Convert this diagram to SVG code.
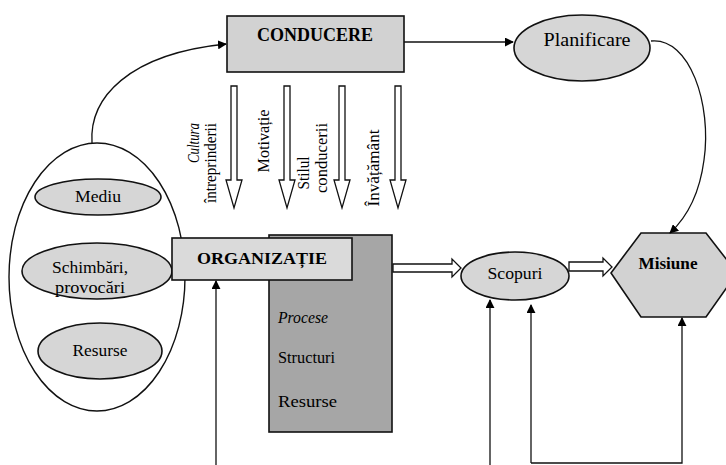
<svg xmlns="http://www.w3.org/2000/svg" width="726" height="465" viewBox="0 0 726 465" font-family="'Liberation Serif', 'Times New Roman', serif">
  <defs>
    <marker id="arrow" viewBox="0 0 10 10" refX="9" refY="5" markerWidth="9" markerHeight="9" markerUnits="userSpaceOnUse" orient="auto">
      <path d="M0,0 L10,5 L0,10 z" fill="#000"/>
    </marker>
    <style>
      text { font-family: "Liberation Serif", "Times New Roman", serif; fill: #000; }
      .box { fill: #d2d2d2; stroke: #111; stroke-width: 1.6; }
      .title { fill: #dadada; stroke: #111; stroke-width: 1.6; }
      .oval { fill: #d6d6d6; stroke: #111; stroke-width: 1.6; }
      .dark { fill: #a6a6a6; stroke: #111; stroke-width: 1.6; }
      .line { fill: none; stroke: #111; stroke-width: 1.3; }
      .hollow { fill: #fff; stroke: #111; stroke-width: 1.3; stroke-linejoin: miter; }
      .b { font-weight: bold; }
    </style>
  </defs>

  <rect width="726" height="465" fill="#fff"/>

  <!-- environment: outer envelope with its three factors -->
  <g id="mediu-extern">
    <ellipse cx="97" cy="277" rx="88" ry="134" fill="none" stroke="#111" stroke-width="1.4"/>
  </g>
  <g id="mediu">
    <ellipse class="oval" cx="98" cy="197" rx="63" ry="18"/>
    <text x="98" y="202" font-size="17" text-anchor="middle" textLength="46" lengthAdjust="spacingAndGlyphs">Mediu</text>
  </g>
  <g id="schimbari">
    <ellipse class="oval" cx="97" cy="271" rx="75" ry="28"/>
    <text x="90" y="273" font-size="17" text-anchor="middle" textLength="76" lengthAdjust="spacingAndGlyphs">Schimbări,</text>
    <text x="90" y="293" font-size="17" text-anchor="middle" textLength="70" lengthAdjust="spacingAndGlyphs">provocări</text>
  </g>
  <g id="resurse-mediu">
    <ellipse class="oval" cx="100" cy="351" rx="62" ry="28"/>
    <text x="100" y="356" font-size="17" text-anchor="middle" textLength="55" lengthAdjust="spacingAndGlyphs">Resurse</text>
  </g>

  <!-- leadership -->
  <g id="conducere">
    <rect class="box" x="227" y="16" width="177" height="56"/>
    <text class="b" x="315" y="41" font-size="18" text-anchor="middle" textLength="116" lengthAdjust="spacingAndGlyphs">CONDUCERE</text>
  </g>

  <g id="planificare">
    <ellipse class="oval" cx="582" cy="48" rx="68" ry="33"/>
    <text x="587" y="46" font-size="18" text-anchor="middle" textLength="87" lengthAdjust="spacingAndGlyphs">Planificare</text>
  </g>

  <!-- organisation block: content panel behind the title bar -->
  <g id="continut-organizatie">
    <rect class="dark" x="269" y="235" width="123" height="197"/>
    <text x="278" y="323" font-size="16" font-style="italic" textLength="50" lengthAdjust="spacingAndGlyphs">Procese</text>
    <text x="278" y="363" font-size="16" textLength="57" lengthAdjust="spacingAndGlyphs">Structuri</text>
    <text x="278" y="407" font-size="16" textLength="59" lengthAdjust="spacingAndGlyphs">Resurse</text>
  </g>
  <g id="organizatie">
    <rect class="title" x="172" y="238" width="180" height="42"/>
    <text class="b" x="262" y="264" font-size="17" text-anchor="middle" textLength="130" lengthAdjust="spacingAndGlyphs">ORGANIZAȚIE</text>
  </g>

  <g id="scopuri">
    <ellipse class="oval" cx="515" cy="276" rx="54" ry="24"/>
    <text x="515" y="279" font-size="17" text-anchor="middle" textLength="55" lengthAdjust="spacingAndGlyphs">Scopuri</text>
  </g>

  <g id="misiune">
    <polygon class="box" points="611,273 641,233 706,233 737,273 706,317 641,317"/>
    <text class="b" x="668" y="269" font-size="17" text-anchor="middle" textLength="59" lengthAdjust="spacingAndGlyphs">Misiune</text>
  </g>

  <!-- influence labels, read bottom to top -->
  <g id="influente">
    <text font-size="16" font-style="italic" text-anchor="middle" transform="translate(199,143) rotate(-90)" textLength="40" lengthAdjust="spacingAndGlyphs">Cultura</text>
    <text font-size="16" text-anchor="middle" transform="translate(216,163) rotate(-90)" textLength="80" lengthAdjust="spacingAndGlyphs">întreprinderii</text>
    <text font-size="16" text-anchor="middle" transform="translate(269,141) rotate(-90)" textLength="63" lengthAdjust="spacingAndGlyphs">Motivație</text>
    <text font-size="16" text-anchor="middle" transform="translate(309,173) rotate(-90)" textLength="33" lengthAdjust="spacingAndGlyphs">Stilul</text>
    <text font-size="16" text-anchor="middle" transform="translate(327,158) rotate(-90)" textLength="70" lengthAdjust="spacingAndGlyphs">conducerii</text>
    <text font-size="16" text-anchor="middle" transform="translate(379,168) rotate(-90)" textLength="77" lengthAdjust="spacingAndGlyphs">Învățământ</text>
  </g>

  <g id="connectors">
    <!-- envelope to leadership -->
    <path class="line" d="M92,143 C89,98 128,54 226,44" marker-end="url(#arrow)"/>
    <!-- leadership to planning -->
    <path class="line" d="M404,42 L513,42" marker-end="url(#arrow)"/>
    <!-- planning to mission -->
    <path class="line" d="M651,41 C690,37 712,105 704,160 C699,198 684,220 670,233" marker-end="url(#arrow)"/>

    <!-- hollow downward arrows from leadership -->
    <polygon class="hollow" points="231,86 237,86 237,180 242,180 234,208 226,180 231,180"/>
    <polygon class="hollow" points="284,86 290,86 290,180 295,180 287,208 279,180 284,180"/>
    <polygon class="hollow" points="339,86 345,86 345,180 350,180 342,208 334,180 339,180"/>
    <polygon class="hollow" points="395,86 401,86 401,180 406,180 398,208 390,180 395,180"/>

    <!-- hollow horizontal arrows -->
    <polygon class="hollow" points="393,264 452,264 452,259 461,268 452,277 452,272 393,272"/>
    <polygon class="hollow" points="569,262 603,262 603,258 612,267 603,276 603,271 569,271"/>

    <!-- feedback lines from below -->
    <path class="line" d="M216,465 L216,281" marker-end="url(#arrow)"/>
    <path class="line" d="M490,465 L490,300" marker-end="url(#arrow)"/>
    <path class="line" d="M531,463 L531,305" marker-end="url(#arrow)"/>
    <path class="line" d="M531,463 L682,463 L682,318" marker-end="url(#arrow)"/>
  </g>
</svg>
